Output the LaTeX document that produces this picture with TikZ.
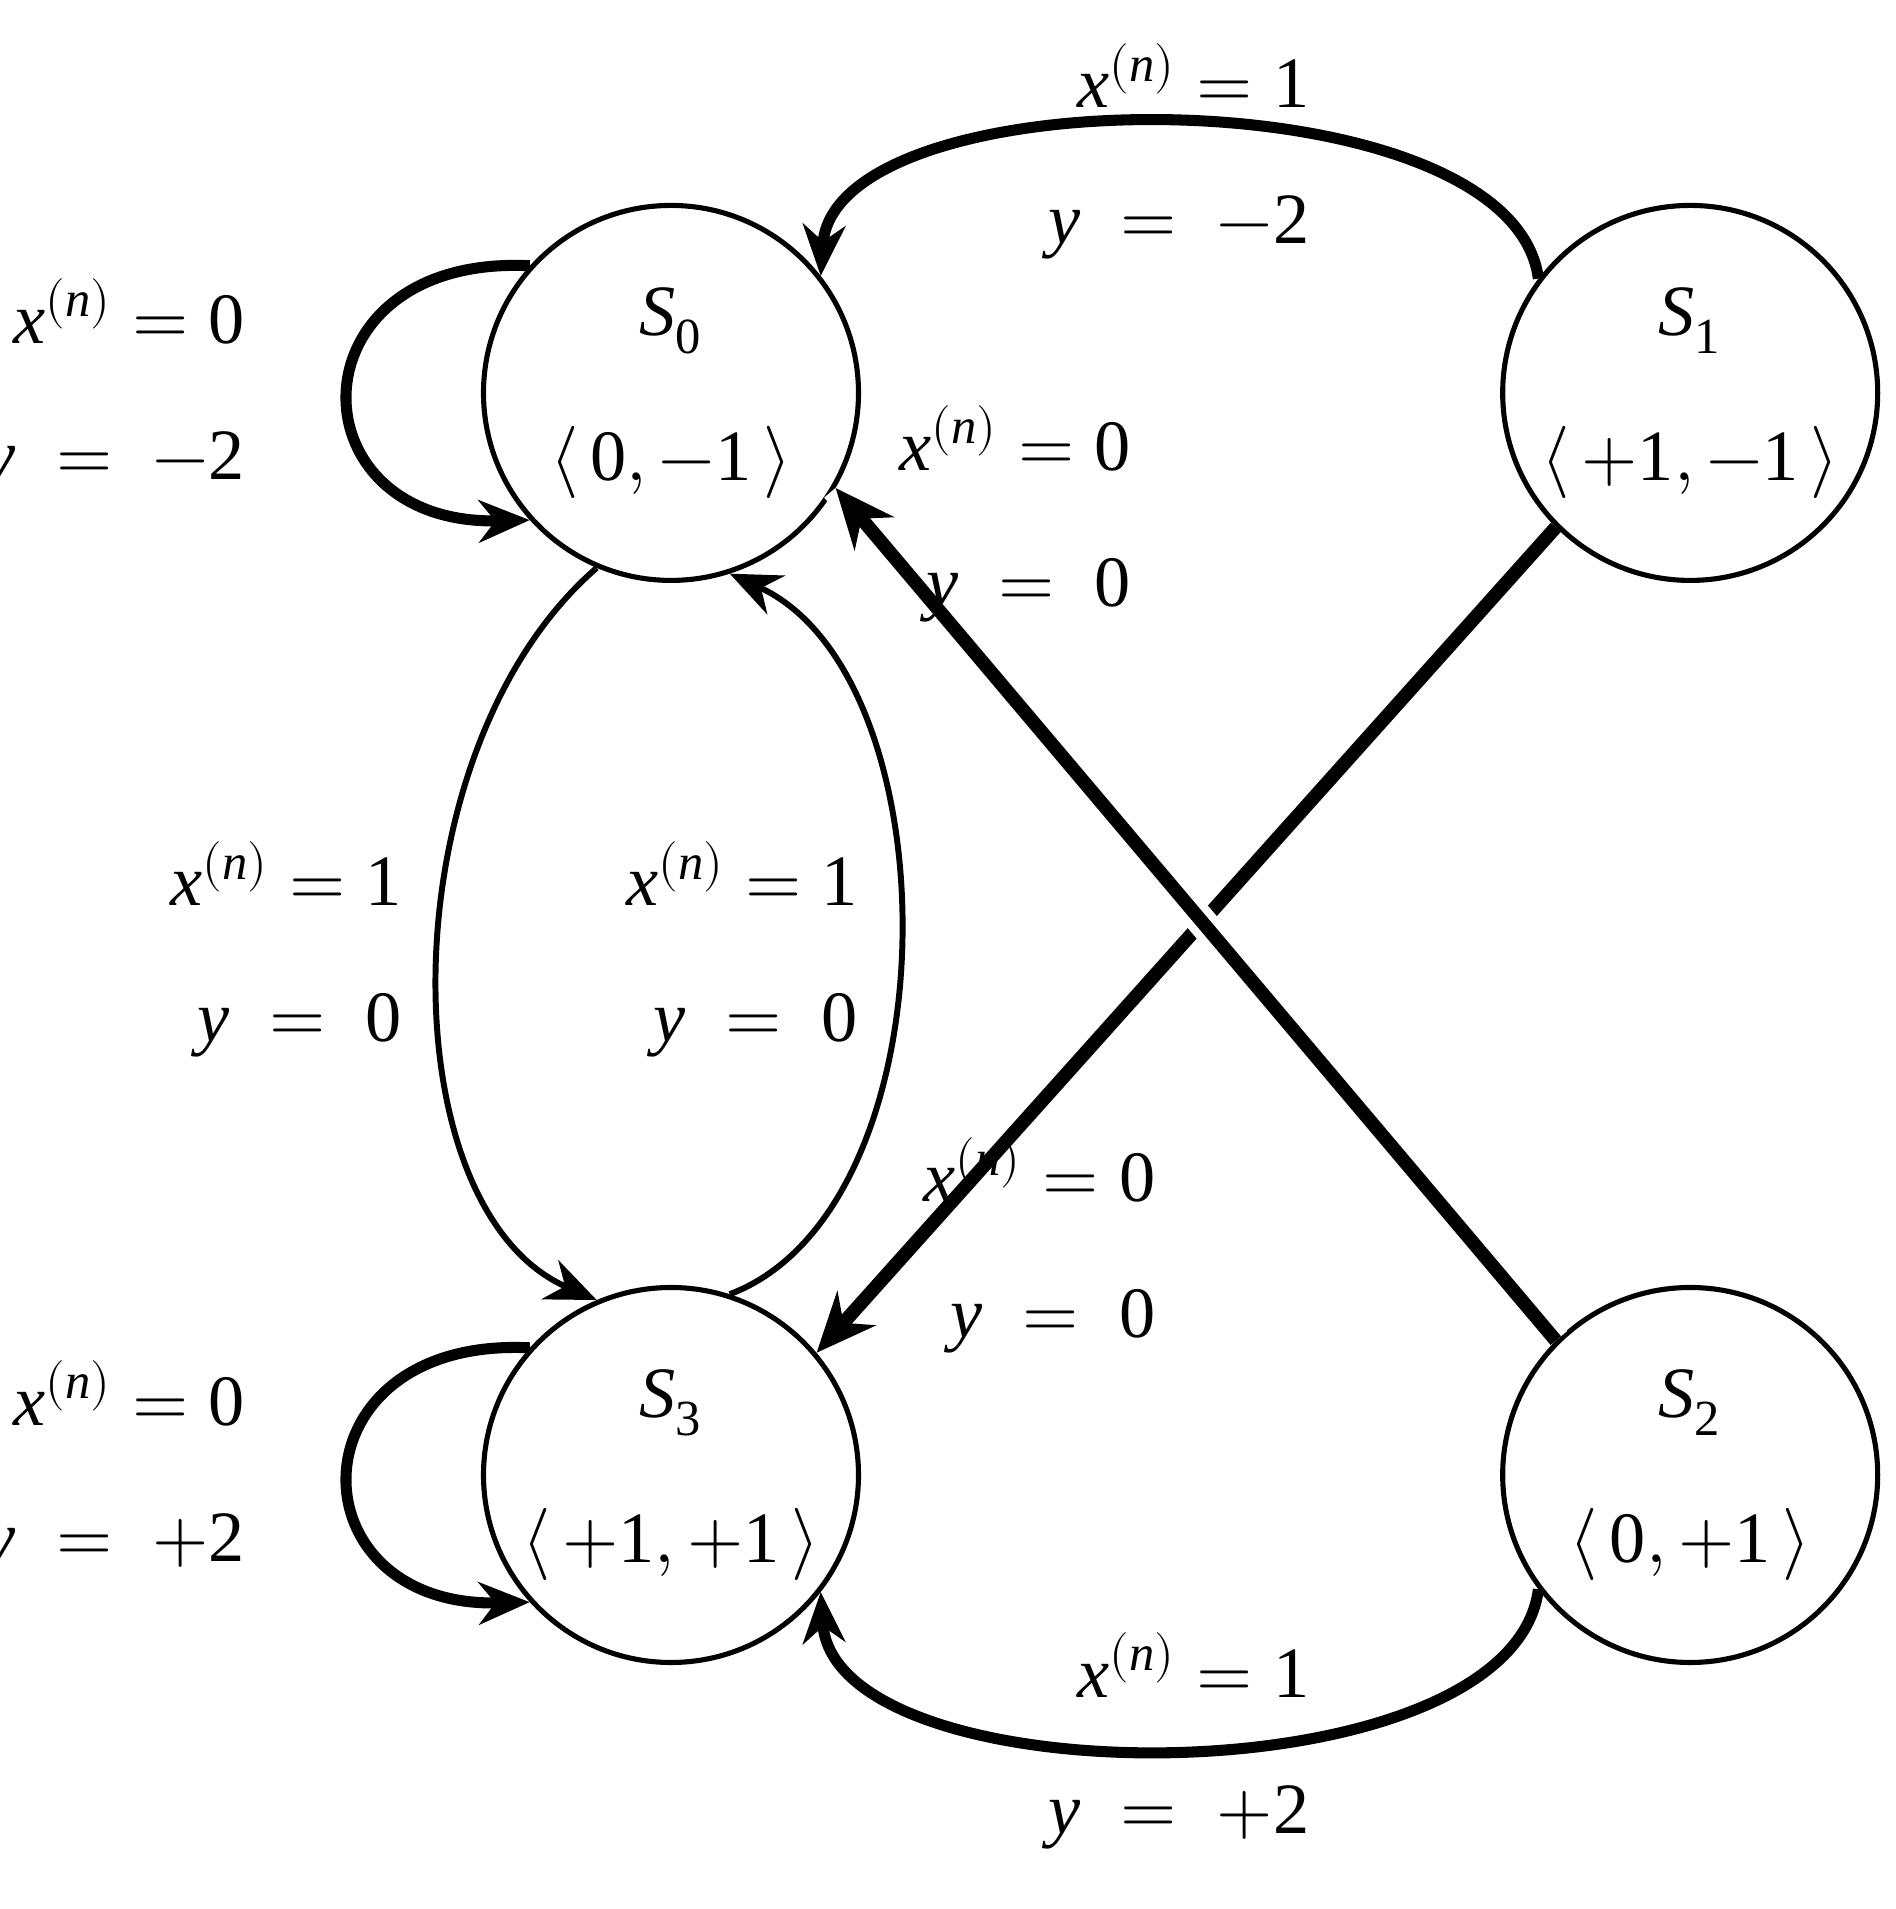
\documentclass[tikz,border=0pt]{standalone}
\usepackage{fontspec}
\usepackage{unicode-math}
\setmainfont{Liberation Serif}
\setmathfont{Latin Modern Math}
\setmathfont[range=up/{latin,Latin,num}]{Liberation Serif}
\setmathfont[range=it/{latin,Latin}]{Liberation Serif Italic}
\usetikzlibrary{positioning, arrows.meta}

\begin{document}
\begin{tikzpicture}[x=0.01cm, y=-0.01cm,
    state/.style={circle, draw, line width=1.2pt, minimum size=3.1cm, inner sep=0pt, align=center, font=\fontsize{17}{34}\selectfont},
    lab/.style={align=right, font=\fontsize{17}{32}\selectfont},
    arc/.style={line width=2.6pt, -{Stealth[length=12pt, width=10pt]}},
    thin/.style={line width=1.4pt, -{Stealth[length=12pt, width=10pt]}},
    bar/.style={line width=3.2pt, -{Stealth[length=14pt, width=12pt]}}]
    \useasboundingbox (0,0) rectangle (1568,1579);
    % Define states
    \node[state] (s0) at (555,325) {$S_0$\\$\langle\,0,-1\,\rangle$};
    \node[state] (s1) at (1398,325) {$S_1$\\$\langle\,{+1},-1\,\rangle$};
    \node[state] (s3) at (555,1220) {$S_3$\\$\langle\,{+1},+1\,\rangle$};
    \node[state] (s2) at (1398,1220) {$S_2$\\$\langle\,0,+1\,\rangle$};

    % Define transitions
    \draw[arc] (s0.138) .. controls (240,210) and (240,435) .. (s0.-138);
    \draw[arc] (s3.138) .. controls (240,1105) and (240,1330) .. (s3.-138);
    \draw[arc] (s1.143) .. controls (1250,60) and (690,60) .. (s0.38);
    \draw[arc] (s2.-143) .. controls (1250,1490) and (690,1490) .. (s3.-38);
    \draw[thin] (s0.-113) .. controls (320,620) and (320,1000) .. (s3.113);
    \draw[thin] (s3.72) .. controls (790,1000) and (790,560) .. (s0.-72);
    \draw[bar] (s1.-135) -- (s3.40);
    \draw[bar, preaction={draw, white, line width=7pt, -}] (s2.135) -- (s0.-30);

    % Labels
    \node[lab, anchor=east] (l00) at (215,320) {$x^{(n)} = 0$\\$y \;=\; -2$};
    \node[lab, anchor=east] (l33) at (215,1215) {$x^{(n)} = 0$\\$y \;=\; +2$};
    \node[lab] (l10) at (975,125) {$x^{(n)} = 1$\\$y \;=\; -2$};
    \node[lab] (l23) at (975,1440) {$x^{(n)} = 1$\\$y \;=\; +2$};
    \node[lab, anchor=east] (l03) at (345,785) {$x^{(n)} = 1$\\$y \;=\; 0$};
    \node[lab, anchor=east] (l30) at (722,785) {$x^{(n)} = 1$\\$y \;=\; 0$};
    \node[lab, anchor=east] (l20) at (948,425) {$x^{(n)} = 0$\\$y \;=\; 0$};
    \node[lab, anchor=east] (l13) at (968,1030) {$x^{(n)} = 0$\\$y \;=\; 0$};
\end{tikzpicture}
\end{document}
